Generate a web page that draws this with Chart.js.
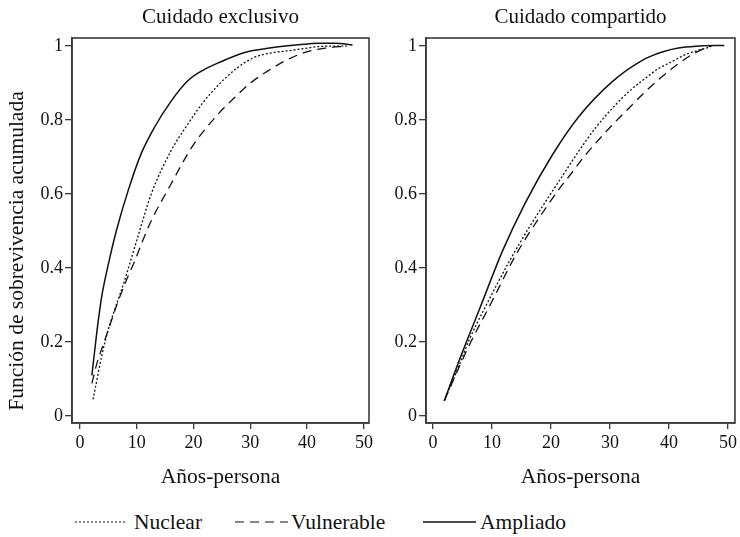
<!DOCTYPE html>
<html><head><meta charset="utf-8">
<script src="https://cdn.jsdelivr.net/npm/chart.js@4"></script>
<style>
html,body{margin:0;padding:0;background:#fff;width:740px;height:537px;overflow:hidden;font-family:"Liberation Serif","Times New Roman",serif;color:#111;}
#c1{position:absolute;left:0;top:0;}
#c2{position:absolute;left:376px;top:0;}
#leg{position:absolute;left:0;top:506px;}
.lt{position:absolute;top:510px;font-family:"Liberation Serif","Times New Roman",serif;font-size:21.5px;line-height:24px;white-space:nowrap;}
#ytitle{position:absolute;left:16px;top:251px;width:400px;margin-left:-200px;margin-top:-12px;height:24px;line-height:24px;text-align:center;transform:rotate(-90deg);font-family:"Liberation Serif","Times New Roman",serif;font-size:21.5px;white-space:nowrap;}
</style></head>
<body>
<canvas id="c1" width="376" height="500"></canvas>
<canvas id="c2" width="364" height="500"></canvas>
<div id="ytitle">Función de sobrevivencia acumulada</div>
<svg id="leg" width="740" height="30">
<line x1="75" y1="16" x2="126" y2="16" stroke="#111" stroke-width="1.2" stroke-dasharray="2,2"/>
<line x1="235" y1="16" x2="288" y2="16" stroke="#111" stroke-width="1.2" stroke-dasharray="9,6"/>
<line x1="423" y1="16" x2="476" y2="16" stroke="#111" stroke-width="1.4"/>
</svg>
<span class="lt" style="left:134px">Nuclear</span>
<span class="lt" style="left:291px">Vulnerable</span>
<span class="lt" style="left:480px">Ampliado</span>
<script>
// ---- data ----
const panelTitles = ['Cuidado exclusivo', 'Cuidado compartido'];
const seriesNames = ['Nuclear', 'Vulnerable', 'Ampliado'];
const xTicks = [0, 10, 20, 30, 40, 50];
const yTicks = [0, 0.2, 0.4, 0.6, 0.8, 1];
const yTickLabels = ['0', '0.2', '0.4', '0.6', '0.8', '1'];

// Cuidado exclusivo
const exNucX = [2.3, 4.4, 7.9, 10.5, 12.5, 16, 18.9, 21.8, 24.7, 27.6, 30.5, 33.4, 36.4, 39.3, 42.2, 45.1, 47];
const exNucY = [0.045, 0.20, 0.368, 0.50, 0.598, 0.716, 0.787, 0.85, 0.90, 0.94, 0.968, 0.981, 0.987, 0.993, 0.999, 1.0, 1.0];
const exVulX = [2.1, 3.0, 4.2, 5.4, 6.7, 8.2, 9.6, 11.1, 12.5, 16, 19.8, 24.2, 27.1, 30, 32.9, 36.1, 39.8, 43.4, 46.8];
const exVulY = [0.088, 0.143, 0.197, 0.251, 0.309, 0.368, 0.417, 0.476, 0.526, 0.626, 0.729, 0.814, 0.859, 0.90, 0.931, 0.96, 0.984, 0.995, 1.0];
const exAmpX = [2.1, 3.0, 3.8, 5.0, 6.4, 8.5, 10.8, 13.1, 16, 18.9, 21.8, 24.7, 29, 33.4, 38, 42.2, 45, 48];
const exAmpY = [0.11, 0.23, 0.32, 0.41, 0.50, 0.61, 0.71, 0.78, 0.85, 0.905, 0.936, 0.957, 0.983, 0.995, 1.003, 1.008, 1.008, 1.003];

// Cuidado compartido
const coNucX = [1.9, 4.5, 6.1, 8.8, 13, 16.3, 19.1, 21.9, 24.7, 27.5, 30.4, 33.2, 36, 38.3, 40.5, 42.5, 44.4, 46.6, 47.2];
const coNucY = [0.041, 0.14, 0.205, 0.293, 0.42, 0.51, 0.58, 0.648, 0.716, 0.778, 0.832, 0.877, 0.913, 0.94, 0.958, 0.975, 0.986, 0.996, 1.0];
const coVulX = [1.9, 4.5, 6.4, 9.9, 13.5, 15.2, 17.5, 19.4, 21.4, 23.6, 25.6, 30.4, 33.2, 36, 38.5, 41.3, 43.8, 45.5, 47];
const coVulY = [0.041, 0.135, 0.20, 0.307, 0.42, 0.467, 0.524, 0.569, 0.614, 0.659, 0.701, 0.787, 0.832, 0.877, 0.913, 0.949, 0.976, 0.99, 1.0];
const coAmpX = [1.9, 4.5, 7.9, 11.8, 15.6, 20.2, 24.7, 30.4, 36, 39, 41.6, 44.6, 49.4];
const coAmpY = [0.041, 0.153, 0.29, 0.447, 0.575, 0.705, 0.809, 0.904, 0.966, 0.985, 0.995, 1.0, 1.002];

// ---- styling ----
const FONT = '"Liberation Serif", "Times New Roman", serif';
const INK = '#111';
const AX = '#3a3a3a';
const dashes = [[2, 2], [9, 6], []];
const widths = [1.3, 1.3, 1.5];

function pts(xs, ys) { return xs.map((x, i) => ({ x: x, y: ys[i] })); }

const framePlugin = {
  id: 'frame',
  afterDraw(chart) {
    const { ctx, chartArea: { left, top, right, bottom } } = chart;
    ctx.save();
    ctx.strokeStyle = AX;
    ctx.lineWidth = 1.6;
    ctx.strokeRect(left, top, right - left, bottom - top);
    ctx.restore();
  }
};

function makeChart(id, title, data, xmin, xmax, yw, padRight) {
  const datasets = data.map((d, i) => ({
    label: seriesNames[i],
    data: pts(d[0], d[1]),
    borderColor: '#111',
    borderWidth: widths[i],
    borderDash: dashes[i],
    pointRadius: 0,
    fill: false,
    cubicInterpolationMode: 'monotone'
  }));
  return new Chart(document.getElementById(id), {
    type: 'line',
    data: { datasets },
    options: {
      responsive: false,
      animation: false,
      layout: { padding: { left: 0, right: padRight, top: 0, bottom: 0 } },
      plugins: {
        legend: { display: false },
        tooltip: { enabled: false },
        title: {
          display: true, text: title, fullSize: false, color: INK,
          font: { family: FONT, size: 21, weight: 'normal', lineHeight: 1.2 },
          padding: { top: 5, bottom: 7.8 }
        }
      },
      scales: {
        x: {
          type: 'linear', min: xmin, max: xmax,
          afterBuildTicks: s => { s.ticks = xTicks.map(v => ({ value: v })); },
          afterFit: s => { s.height = 77; },
          ticks: { color: INK, font: { family: FONT, size: 18 }, padding: 3, maxRotation: 0, autoSkip: false, callback: v => String(v) },
          grid: { display: true, drawOnChartArea: false, drawTicks: true, tickLength: 6, color: AX, lineWidth: 1.3 },
          border: { display: true, color: AX, width: 1.6 },
          title: { display: true, text: 'Años-persona', color: INK, font: { family: FONT, size: 21.5 }, padding: { top: 0, bottom: 10 } }
        },
        y: {
          type: 'linear', min: -0.019, max: 1.022,
          afterBuildTicks: s => { s.ticks = yTicks.map(v => ({ value: v })); },
          afterFit: s => { s.width = yw; },
          ticks: { color: INK, font: { family: FONT, size: 18 }, padding: 2, autoSkip: false, callback: (v, i) => yTickLabels[i] },
          grid: { display: true, drawOnChartArea: false, drawTicks: true, tickLength: 7, color: AX, lineWidth: 1.3 },
          border: { display: true, color: AX, width: 1.6 }
        }
      }
    },
    plugins: [framePlugin]
  });
}

makeChart('c1', panelTitles[0],
  [[exNucX, exNucY], [exVulX, exVulY], [exAmpX, exAmpY]],
  -1.4, 50.9, 72, 4);
makeChart('c2', panelTitles[1],
  [[coNucX, coNucY], [coVulX, coVulY], [coAmpX, coAmpY]],
  -1.2, 51.2, 50, 3);
</script>
</body></html>
